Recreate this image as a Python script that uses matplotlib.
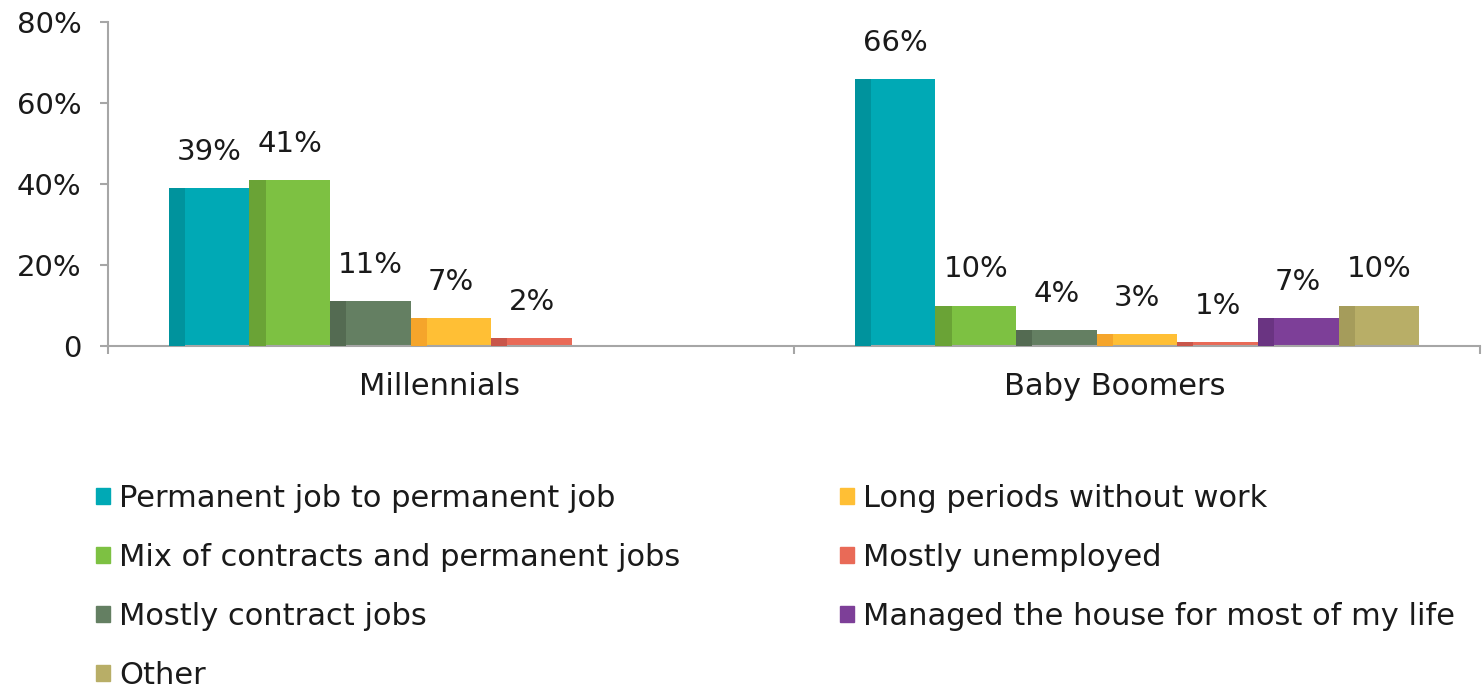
import numpy as np
import matplotlib.pyplot as plt
from matplotlib.patches import Patch
from matplotlib.transforms import ScaledTranslation

plt.rcParams["font.family"] = ["DejaVu Sans"]

GROUPS = ["Millennials", "Baby Boomers"]
SERIES = [
    "Permanent job to permanent job",
    "Mix of contracts and permanent jobs",
    "Mostly contract jobs",
    "Long periods without work",
    "Mostly unemployed",
    "Managed the house for most of my life",
    "Other",
]
# values per series: [Millennials, Baby Boomers]; nan = not asked
VALUES = [
    [39, 66],
    [41, 10],
    [11, 4],
    [7, 3],
    [2, 1],
    [np.nan, 7],
    [np.nan, 10],
]
COLORS = ["#00A9B5", "#7DC142", "#647F62", "#FFBF35", "#E96A57", "#7D3F98", "#B8AE67"]
SIDES = ["#00939D", "#6AA336", "#546B52", "#F5A52B", "#C9564A", "#6A3482", "#A59C5B"]

fig = plt.figure(figsize=(14.83, 6.91), dpi=100)
ax = fig.add_axes([108 / 1483, 1 - 346 / 691, 1372 / 1483, 324 / 691])

x = np.arange(len(GROUPS))
w = 0.1175
side_w = 0.0235
n = len(SERIES)
for i, (vals, c, sc) in enumerate(zip(VALUES, COLORS, SIDES)):
    pos = x + (i - (n - 1) / 2) * w
    v = np.array(vals, dtype=float)
    ax.bar(pos, v, width=w, color=c, zorder=2)
    ax.bar(pos - w / 2 + side_w / 2, v, width=side_w, color=sc, zorder=3)
    for p, val in zip(pos, v):
        if np.isnan(val):
            continue
        ax.annotate(f"{val:.0f}%", xy=(p, val), xytext=(0, 26),
                    textcoords="offset points", ha="center", va="center",
                    fontsize=21, color="#1a1a1a")

ax.set_xlim(-0.5, 1.5)
ax.set_ylim(0, 80)
ax.set_yticks([0, 20, 40, 60, 80])
ax.set_yticklabels(["0", "20%", "40%", "60%", "80%"])
ax.set_xticks(x)
ax.set_xticklabels(GROUPS)
ax.set_xticks([-0.5, 0.5, 1.5], minor=True)

for s in ["top", "right"]:
    ax.spines[s].set_visible(False)
for s in ["left", "bottom"]:
    ax.spines[s].set_color("#A6A6A6")
    ax.spines[s].set_linewidth(1.5)
ax.tick_params(axis="y", length=6, width=1.5, color="#A6A6A6", pad=13,
               labelsize=21, labelcolor="#1a1a1a")
ax.tick_params(axis="x", which="major", length=0, pad=19, labelsize=22,
               labelcolor="#1a1a1a")
ax.tick_params(axis="x", which="minor", length=6, width=1.5, color="#A6A6A6")

offs = [-12, -22]
for lab, o in zip(ax.get_xticklabels(), offs):
    lab.set_transform(lab.get_transform() + ScaledTranslation(o / 100, 0, fig.dpi_scale_trans))

handles = [Patch(color=c, label=s) for c, s in zip(COLORS, SERIES)]
col1 = [handles[0], handles[1], handles[2], handles[6]]
col2 = [handles[3], handles[4], handles[5]]
common = dict(frameon=False, fontsize=22, handlelength=0.45, handleheight=0.45,
              handletextpad=0.3, labelspacing=0.98, borderaxespad=0, borderpad=0,
              labelcolor="#1a1a1a")
fig.legend(handles=col1, loc="upper left", bbox_to_anchor=(96 / 1483, 1 - 484 / 691), **common)
fig.legend(handles=col2, loc="upper left", bbox_to_anchor=(840 / 1483, 1 - 484 / 691), **common)

fig.savefig("out.png", dpi=100)
